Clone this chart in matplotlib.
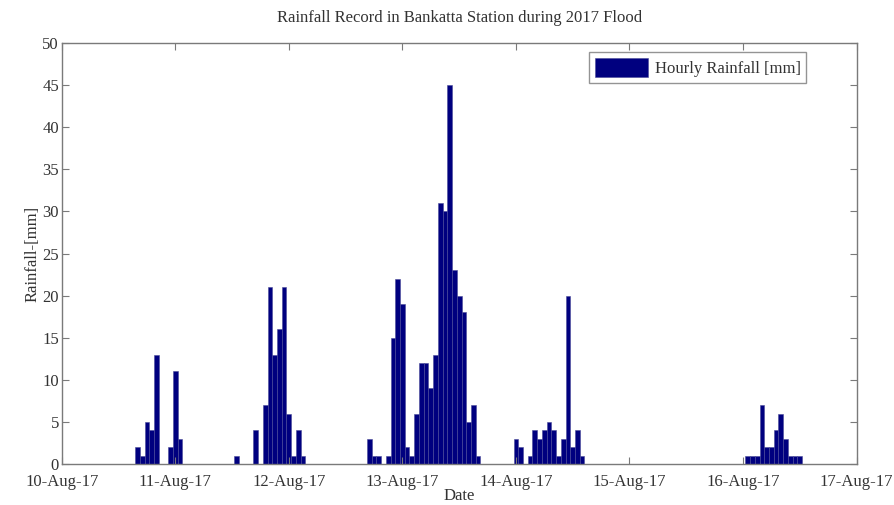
import numpy as np
import pandas as pd
import matplotlib
matplotlib.use("Agg")
import matplotlib.pyplot as plt
import matplotlib.dates as mdates

# hourly rainfall [mm], each burst given by its first hour
burst1_start = "2017-08-10 16:00"
burst1 = [2, 1, 5, 4, 13, 0, 0, 2, 11, 3]
burst2_start = "2017-08-11 13:00"
burst2 = [1, 0, 0, 0, 4, 0, 7, 21, 13, 16, 21, 6, 1, 4, 1]
burst3_start = "2017-08-12 17:00"
burst3 = [3, 1, 1, 0, 1, 15, 22, 19, 2, 1, 6, 12, 12, 9, 13, 31, 30, 45,
          23, 20, 18, 5, 7, 1]
burst4_start = "2017-08-14 00:00"
burst4 = [3, 2, 0, 1, 4, 3, 4, 5, 4, 1, 3, 20, 2, 4, 1]
burst5_start = "2017-08-16 01:00"
burst5 = [1, 1, 1, 7, 2, 2, 4, 6, 3, 1, 1, 1]

day_ticks = pd.date_range("2017-08-10", "2017-08-17", freq="D")

times = []
rain = []
for start, vals in [(burst1_start, burst1), (burst2_start, burst2),
                    (burst3_start, burst3), (burst4_start, burst4),
                    (burst5_start, burst5)]:
    t = pd.date_range(start, periods=len(vals), freq="h")
    times.extend(t)
    rain.extend(vals)

plt.rcParams['font.family'] = ['Liberation Serif', 'DejaVu Serif']
txt = '#333333'
edge = '#7a7a7a'

fig = plt.figure(figsize=(8.95, 5.05), dpi=100)
ax = fig.add_axes([0.069, 0.081, 0.888, 0.834])

ax.bar(mdates.date2num(times), rain, width=1 / 24, align='center',
       color='#00007f', edgecolor='#4a4a9a', linewidth=0.4,
       label='Hourly Rainfall [mm]')

ax.set_xlim(mdates.date2num(day_ticks[0]), mdates.date2num(day_ticks[-1]))
ax.set_ylim(0, 50)
ax.set_xticks(mdates.date2num(day_ticks))
ax.set_xticklabels([d.strftime('%d-%b-%y') for d in day_ticks])
ax.set_yticks(np.arange(0, 51, 5))

ax.tick_params(direction='in', top=True, right=True, length=5,
               labelsize=12, colors=edge, labelcolor=txt, pad=3)
ax.tick_params(axis='x', pad=7)
ax.tick_params(axis='y', pad=2)
for s in ax.spines.values():
    s.set_color(edge)
    s.set_linewidth(1.0)

ax.set_title('Rainfall Record in Bankatta Station during 2017 Flood',
             fontsize=12, color=txt, pad=15)
ax.set_xlabel('Date', fontsize=12, color=txt, labelpad=-1)
ax.set_ylabel('Rainfall-[mm]', fontsize=12, color=txt, labelpad=1)

leg = ax.legend(loc='upper right', bbox_to_anchor=(0.937, 0.978),
                fancybox=False, fontsize=12, handlelength=3.2,
                handleheight=1.4, borderpad=0.35, handletextpad=0.4,
                borderaxespad=0)
leg.get_frame().set_edgecolor(edge)
leg.get_frame().set_linewidth(1.0)
for t in leg.get_texts():
    t.set_color(txt)

fig.savefig('out.png', dpi=100)
